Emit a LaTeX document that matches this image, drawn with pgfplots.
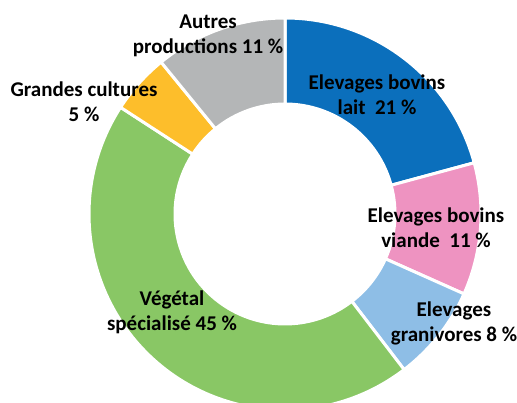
\documentclass[border=0pt]{standalone}
\usepackage{pgfplots}
\usepackage{pgfplotstable}
\pgfplotsset{compat=1.18}
\usepackage{fontspec}
\setmainfont{Carlito}
\definecolor{cLait}{HTML}{0B6FBC}
\definecolor{cViande}{HTML}{EE93C1}
\definecolor{cGrani}{HTML}{8EBEE6}
\definecolor{cVeg}{HTML}{89C765}
\definecolor{cGrandes}{HTML}{FDBE2B}
\definecolor{cAutres}{HTML}{B4B6B7}
\pgfplotstableread{
value color
21 cLait
11 cViande
8 cGrani
45 cVeg
5 cGrandes
11 cAutres
}\donut
\begin{document}
\begin{tikzpicture}
\useasboundingbox (0,0) rectangle (517pt,403pt);
% pre-compute slice angles from the table
\def\total{0}
\pgfplotsforeachungrouped \i in {0,...,5}{%
  \pgfplotstablegetelem{\i}{value}\of\donut
  \pgfmathsetmacro\total{\total+\pgfplotsretval}%
}
\def\cum{0}
\pgfplotsforeachungrouped \i in {0,...,5}{%
  \pgfplotstablegetelem{\i}{value}\of\donut
  \let\sval\pgfplotsretval
  \pgfplotstablegetelem{\i}{color}\of\donut
  \expandafter\xdef\csname sc\i\endcsname{\pgfplotsretval}%
  \pgfmathsetmacro\sA{90-360*(\cum/\total)}%
  \pgfmathsetmacro\cum{\cum+\sval}%
  \pgfmathsetmacro\sB{90-360*(\cum/\total)}%
  \pgfmathsetmacro\sXo{285+196*cos(\sA)}%
  \pgfmathsetmacro\sYo{189+196*sin(\sA)}%
  \pgfmathsetmacro\sXi{285+110*cos(\sB)}%
  \pgfmathsetmacro\sYi{189+110*sin(\sB)}%
  \expandafter\xdef\csname sa\i\endcsname{\sA}%
  \expandafter\xdef\csname sb\i\endcsname{\sB}%
  \expandafter\xdef\csname sxo\i\endcsname{\sXo}%
  \expandafter\xdef\csname syo\i\endcsname{\sYo}%
  \expandafter\xdef\csname sxi\i\endcsname{\sXi}%
  \expandafter\xdef\csname syi\i\endcsname{\sYi}%
}
\begin{axis}[
  at={(0,0)}, anchor=south west,
  width=517pt, height=403pt, scale only axis,
  xmin=0, xmax=517, ymin=0, ymax=403,
  enlargelimits=false,
  axis lines=none, ticks=none,
  clip=true,
]
\addplot[draw=none] coordinates {(0,0) (517,403)};
\pgfplotsinvokeforeach{0,...,5}{%
  \fill[fill=\csname sc#1\endcsname, draw=white, line width=3pt, line join=miter]
    (axis cs:\csname sxo#1\endcsname,\csname syo#1\endcsname)
    arc[start angle=\csname sa#1\endcsname, end angle=\csname sb#1\endcsname, radius=196pt]
    -- (axis cs:\csname sxi#1\endcsname,\csname syi#1\endcsname)
    arc[start angle=\csname sb#1\endcsname, end angle=\csname sa#1\endcsname, radius=110pt] -- cycle;
}
\tikzset{lbl/.style={align=center, inner sep=0pt, font=\bfseries\fontsize{21}{25}\selectfont}}
\node[lbl] at (axis cs:377,308) {Elevages bovins\\lait\ \ 21 \%};
\node[lbl] at (axis cs:436,175) {Elevages bovins\\viande\ \ 11 \%};
\node[lbl] at (axis cs:454,80) {Elevages\\granivores 8 \%};
\node[lbl] at (axis cs:172,91) {Végétal\\spécialisé 45 \%};
\node[lbl] at (axis cs:84,301) {Grandes cultures\\5 \%};
\node[lbl] at (axis cs:208,367) {Autres\\productions 11 \%};
\end{axis}
\end{tikzpicture}
\end{document}
